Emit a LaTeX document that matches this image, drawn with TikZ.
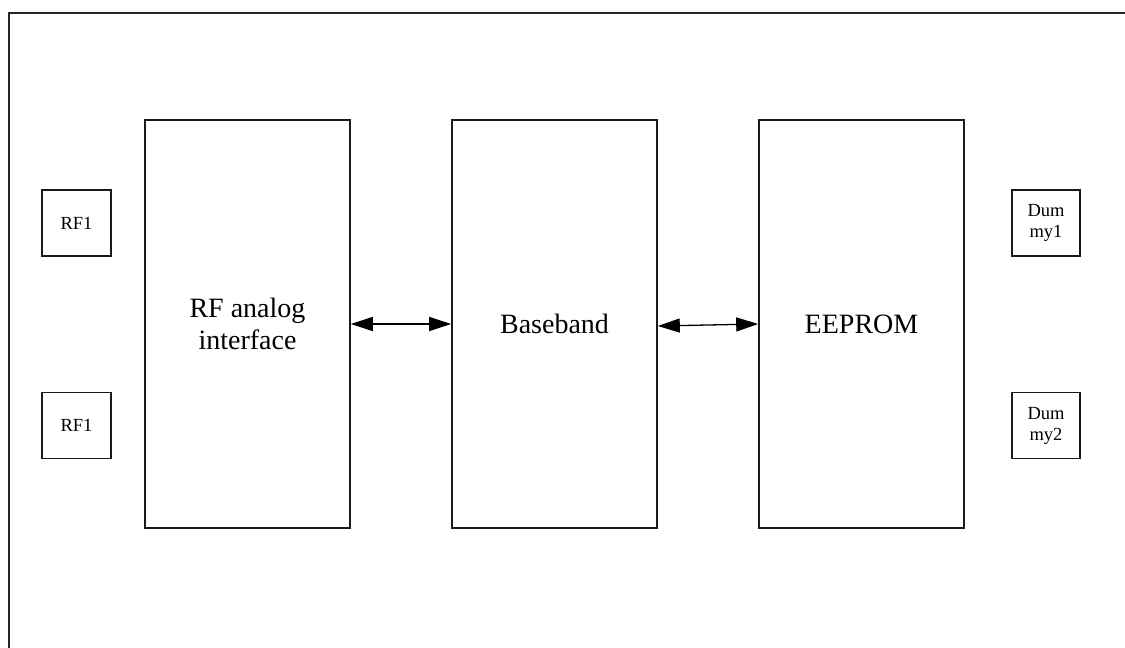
\documentclass[tikz,border=0pt]{standalone}
\usepackage{fontspec}
\setmainfont{Liberation Serif}
\usetikzlibrary{arrows.meta}
\begin{document}
\begin{tikzpicture}[x=1pt,y=-1pt,
  bigbox/.style={draw=black!90,line width=1.6pt,minimum width=205pt,minimum height=408pt,inner sep=0pt,align=center,font=\fontsize{28}{32}\selectfont},
  smallbox/.style={draw=black!90,line width=1.6pt,minimum width=69pt,minimum height=66pt,inner sep=0pt,align=center,font=\fontsize{18.5}{21}\selectfont},
  link/.style={line width=1.3pt,{Triangle[length=22pt,width=14pt]}-{Triangle[length=22pt,width=14pt]}}
]
\useasboundingbox (0,0) rectangle (1125,648);
\fill[white] (0,0) rectangle (1125,648);
\begin{scope}
\clip (0,0) rectangle (1125,648);
\draw[line width=1.8pt,black!85] (9,13) rectangle (1140,670);
\end{scope}
\node[bigbox] (rf) at (247.5,324) {RF analog\\interface};
\node[bigbox] (bb) at (554.5,324) {Baseband};
\node[bigbox] (ee) at (861.5,324) {EEPROM};
\node[smallbox] (rf1a) at (76.5,223) {RF1};
\node[smallbox] (rf1b) at (76.5,425.5) {RF1};
\node[smallbox,minimum width=68pt] (d1) at (1046,223) {Dum\\my1};
\node[smallbox,minimum width=68pt] (d2) at (1046,425.5) {Dum\\my2};
\draw[link] (rf.east) -- (bb.west);
\draw[link] ([yshift=-2pt]bb.east) -- (ee.west);
\end{tikzpicture}
\end{document}
